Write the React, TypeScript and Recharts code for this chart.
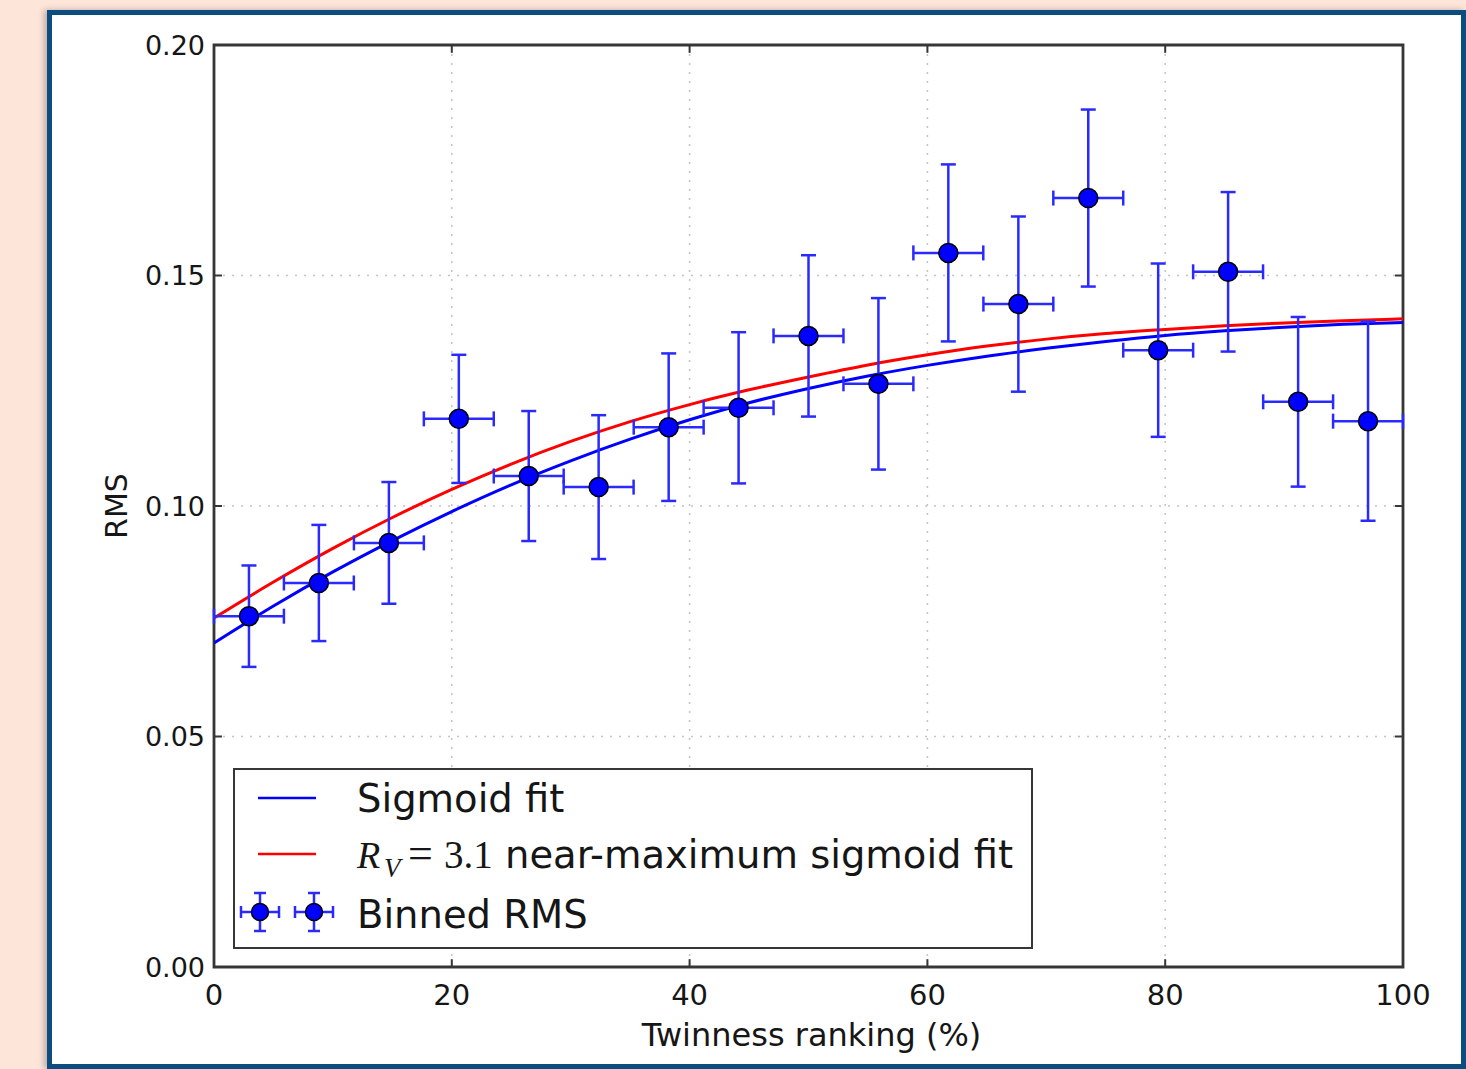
import React from 'react';
import {
  ComposedChart,
  Line,
  Scatter,
  XAxis,
  YAxis,
  CartesianGrid,
  ErrorBar,
  ReferenceArea,
  ReferenceLine,
  Legend,
} from 'recharts';

// ---- data ----
const binCenters = [2.94, 8.82, 14.71, 20.59, 26.47, 32.35, 38.24, 44.12, 50.0, 55.88, 61.76, 67.65, 73.53, 79.41, 85.29, 91.18, 97.06];
const rmsValues = [0.0761, 0.0833, 0.092, 0.1189, 0.1065, 0.1041, 0.1171, 0.1213, 0.1369, 0.1265, 0.1549, 0.1438, 0.1668, 0.1338, 0.1508, 0.1226, 0.1184];
const rmsErrors = [0.011, 0.0126, 0.0132, 0.0139, 0.0141, 0.0156, 0.016, 0.0164, 0.0175, 0.0186, 0.0192, 0.019, 0.0192, 0.0188, 0.0173, 0.0184, 0.0216];
const binHalfWidths = [2.94, 2.94, 2.94, 2.94, 2.94, 2.94, 2.94, 2.94, 2.94, 2.94, 2.94, 2.94, 2.94, 2.94, 2.94, 2.94, 2.94];

const fitX = [0, 5, 10, 15, 20, 25, 30, 35, 40, 45, 50, 55, 60, 65, 70, 75, 80, 85, 90, 95, 100];
const sigmoidFit = [0.0703, 0.0783, 0.0857, 0.0925, 0.0988, 0.1046, 0.1098, 0.1145, 0.1187, 0.1224, 0.1255, 0.1282, 0.1305, 0.1325, 0.1342, 0.1357, 0.137, 0.138, 0.1388, 0.1394, 0.1398];
const nearMaxFit = [0.0757, 0.0835, 0.0908, 0.0975, 0.1036, 0.1091, 0.114, 0.1183, 0.122, 0.1252, 0.128, 0.1306, 0.1328, 0.1347, 0.1362, 0.1374, 0.1383, 0.1391, 0.1397, 0.1402, 0.1406];

const xTicks = [0, 20, 40, 60, 80, 100];
const xTickLabels = ['0', '20', '40', '60', '80', '100'];
const yTicks = [0, 0.05, 0.1, 0.15, 0.2];
const yTickLabels = ['0.00', '0.05', '0.10', '0.15', '0.20'];

const legendLabels = ['Sigmoid fit', 'near-maximum sigmoid fit', 'Binned RMS'];
const xAxisTitle = 'Twinness ranking (%)';
const yAxisTitle = 'RMS';

// ---- derived tables ----
const binnedData = binCenters.map((x, i) => ({ x, y: rmsValues[i], ey: rmsErrors[i], ex: binHalfWidths[i] }));
const sigmoidData = fitX.map((x, i) => ({ x, y: sigmoidFit[i] }));
const nearMaxData = fitX.map((x, i) => ({ x, y: nearMaxFit[i] }));

const X_DOMAIN: [number, number] = [0, 100];
const Y_DOMAIN: [number, number] = [0, 0.2];
const TICK_LEN_X = 0.67; // ~8px in x units
const TICK_LEN_Y = 0.0017; // ~8px in y units

const SANS = "'DejaVu Sans', 'Bitstream Vera Sans', sans-serif";
const SERIF = "'Liberation Serif', 'DejaVu Serif', serif";
const BLUE = '#0000ff';
const EBLUE = '#2a2aff';
const RED = '#ff0000';
const FRAME = '#363636';
const TEXT = '#161616';

const fmtX = (v: number) => {
  const i = xTicks.findIndex((t) => Math.abs(t - v) < 1e-9);
  return i >= 0 ? xTickLabels[i] : String(v);
};
const fmtY = (v: number) => {
  const i = yTicks.findIndex((t) => Math.abs(t - v) < 1e-9);
  return i >= 0 ? yTickLabels[i] : String(v);
};

const YTitle = (props: any) => {
  const vb = props.viewBox || { x: 0, y: 45, width: 214, height: 922 };
  const cx = vb.x + 127;
  const cy = vb.y + vb.height / 2;
  return (
    <text x={cx} y={cy} transform={`rotate(-90 ${cx} ${cy})`} textAnchor="middle" fontSize={30} fontFamily={SANS} fill={TEXT}>
      {yAxisTitle}
    </text>
  );
};

const XTitle = (props: any) => {
  const vb = props.viewBox || { x: 214, y: 967, width: 1189, height: 102 };
  const cx = vb.x + vb.width / 2 + 3;
  const cy = vb.y + 79;
  return (
    <text x={cx} y={cy} textAnchor="middle" fontSize={32} fontFamily={SANS} fill={TEXT}>
      {xAxisTitle}
    </text>
  );
};

const Dot = (props: any) => {
  const { cx, cy } = props;
  if (cx == null || cy == null) return null;
  return <circle cx={cx} cy={cy} r={9.5} fill={BLUE} stroke="#000" strokeWidth={1.5} />;
};

const LegendMarker = ({ cx, cy }: { cx: number; cy: number }) => (
  <g>
    <line x1={cx - 19} y1={cy} x2={cx + 19} y2={cy} stroke={EBLUE} strokeWidth={2.5} />
    <line x1={cx - 19} y1={cy - 6} x2={cx - 19} y2={cy + 6} stroke={EBLUE} strokeWidth={2.5} />
    <line x1={cx + 19} y1={cy - 6} x2={cx + 19} y2={cy + 6} stroke={EBLUE} strokeWidth={2.5} />
    <line x1={cx} y1={cy - 19} x2={cx} y2={cy + 19} stroke={EBLUE} strokeWidth={2.5} />
    <line x1={cx - 6} y1={cy - 19} x2={cx + 6} y2={cy - 19} stroke={EBLUE} strokeWidth={2.5} />
    <line x1={cx - 6} y1={cy + 19} x2={cx + 6} y2={cy + 19} stroke={EBLUE} strokeWidth={2.5} />
    <circle cx={cx} cy={cy} r={8.5} fill={BLUE} stroke="#000" strokeWidth={1.5} />
  </g>
);

const LegendBox = () => (
  <div style={{ width: 800, height: 181, boxSizing: 'border-box', border: `2px solid ${FRAME}`, background: '#fff' }}>
    <svg width={796} height={177} style={{ display: 'block' }}>
      <line x1={23} y1={28} x2={81} y2={28} stroke={BLUE} strokeWidth={2.5} />
      <text x={122} y={42} fontSize={38.5} fontFamily={SANS} fill={TEXT}>
        {legendLabels[0]}
      </text>
      <line x1={23} y1={84} x2={81} y2={84} stroke={RED} strokeWidth={2.5} />
      <text y={98} fontSize={38.5} fill={TEXT}>
        <tspan x={122} fontFamily={SERIF} fontStyle="italic" fontSize={38}>R</tspan>
        <tspan x={149} dy={9} fontFamily={SERIF} fontStyle="italic" fontSize={27}>V</tspan>
        <tspan x={173} dy={-9} fontFamily={SERIF} fontSize={44}>=</tspan>
        <tspan x={209} fontFamily={SERIF} fontSize={39}>3.1</tspan>
        <tspan x={270} fontFamily={SANS}>{legendLabels[1]}</tspan>
      </text>
      <LegendMarker cx={25} cy={142} />
      <LegendMarker cx={79} cy={142} />
      <text x={122} y={158} fontSize={38.5} fontFamily={SANS} fill={TEXT}>
        {legendLabels[2]}
      </text>
    </svg>
  </div>
);

export default function App() {
  return (
    <div style={{ position: 'absolute', left: 0, top: 0, width: 1466, height: 1069, background: '#fde5da', overflow: 'hidden' }}>
      <div
        style={{
          position: 'absolute',
          left: 47,
          top: 10,
          width: 1419,
          height: 1059,
          boxSizing: 'border-box',
          border: '5px solid #0d4c7f',
          background: '#ffffff',
          boxShadow: '-3px 0 6px rgba(0,0,0,0.25)',
        }}
      />
      <div style={{ position: 'absolute', left: 0, top: 0 }}>
        <ComposedChart width={1466} height={1069} margin={{ top: 45, right: 63, bottom: 0, left: 0 }}>
          <CartesianGrid stroke="#c4c4c4" strokeWidth={1.5} strokeDasharray="2 7" />
          <XAxis
            type="number"
            dataKey="x"
            domain={X_DOMAIN}
            ticks={xTicks}
            tickFormatter={fmtX}
            allowDataOverflow
            height={102}
            tickSize={0}
            tickMargin={17}
            tickLine={false}
            axisLine={false}
            tick={{ fontSize: 29, fill: TEXT, fontFamily: SANS }}
            label={{ content: XTitle }}
          />
          <YAxis
            type="number"
            domain={Y_DOMAIN}
            ticks={yTicks}
            tickFormatter={fmtY}
            allowDataOverflow
            width={214}
            tickSize={0}
            tickMargin={9}
            tickLine={false}
            axisLine={false}
            tick={{ fontSize: 27, fill: TEXT, fontFamily: SANS }}
            label={{ content: YTitle }}
          />
          <Line data={sigmoidData} dataKey="y" type="monotone" stroke={BLUE} strokeWidth={3} dot={false} isAnimationActive={false} legendType="none" />
          <Line data={nearMaxData} dataKey="y" type="monotone" stroke={RED} strokeWidth={3} dot={false} isAnimationActive={false} legendType="none" />
          <Scatter data={binnedData} dataKey="y" shape={Dot} isAnimationActive={false} legendType="none">
            <ErrorBar dataKey="ey" direction="y" width={7.5} stroke={EBLUE} strokeWidth={2.5} isAnimationActive={false} />
            <ErrorBar dataKey="ex" direction="x" width={7.5} stroke={EBLUE} strokeWidth={2.5} isAnimationActive={false} />
          </Scatter>
          {xTicks.map((v) => (
            <ReferenceLine key={`bt${v}`} segment={[{ x: v, y: 0 }, { x: v, y: TICK_LEN_Y }]} stroke={FRAME} strokeWidth={2} />
          ))}
          {xTicks.map((v) => (
            <ReferenceLine key={`tt${v}`} segment={[{ x: v, y: 0.2 }, { x: v, y: 0.2 - TICK_LEN_Y }]} stroke={FRAME} strokeWidth={2} />
          ))}
          {yTicks.map((v) => (
            <ReferenceLine key={`lt${v}`} segment={[{ x: 0, y: v }, { x: TICK_LEN_X, y: v }]} stroke={FRAME} strokeWidth={2} />
          ))}
          {yTicks.map((v) => (
            <ReferenceLine key={`rt${v}`} segment={[{ x: 100, y: v }, { x: 100 - TICK_LEN_X, y: v }]} stroke={FRAME} strokeWidth={2} />
          ))}
          <ReferenceArea x1={0} x2={100} y1={0} y2={0.2} fill="none" fillOpacity={0} stroke={FRAME} strokeWidth={2.8} />
          <Legend
            layout="horizontal"
            verticalAlign="middle"
            align="center"
            width={800}
            height={181}
            wrapperStyle={{ left: 233, top: 768, width: 800, height: 181 }}
            content={LegendBox}
          />
        </ComposedChart>
      </div>
    </div>
  );
}
